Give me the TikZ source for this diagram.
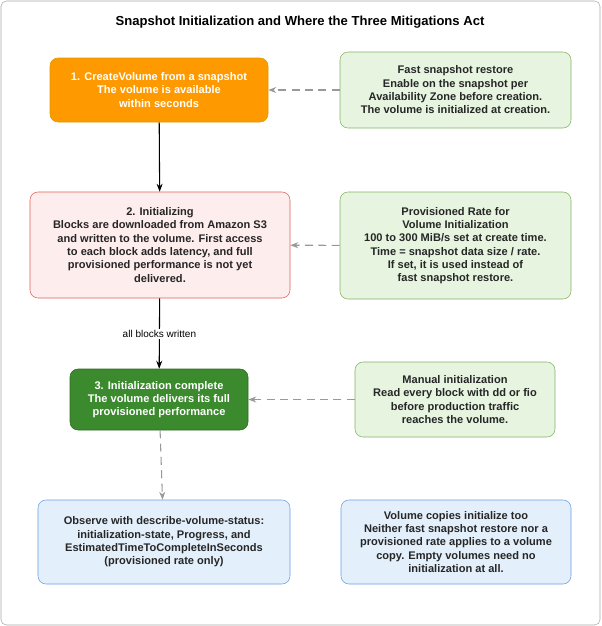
\documentclass[tikz,border=0pt]{standalone}
\usepackage{fontspec}
\setmainfont{Liberation Sans}
\usetikzlibrary{arrows.meta}
\definecolor{orangefill}{HTML}{FF9900}
\definecolor{orangeline}{HTML}{D79B00}
\definecolor{greenfill}{HTML}{E6F4E0}
\definecolor{greenline}{HTML}{82B366}
\definecolor{redfill}{HTML}{FDEDEC}
\definecolor{redline}{HTML}{E0605A}
\definecolor{darkgreen}{HTML}{3C8A2E}
\definecolor{darkgreenline}{HTML}{2D6A22}
\definecolor{bluefill}{HTML}{E3F0FC}
\definecolor{blueline}{HTML}{6C9DE0}
\tikzset{
  box/.style={draw,rounded corners=6pt,align=center,font=\bfseries\fontsize{8.3}{10}\selectfont,inner sep=2pt},
  startbox/.style={box,fill=orangefill,draw=orangeline,text=white},
  note/.style={box,fill=greenfill,draw=greenline,text=black!85},
  flow/.style={-{Stealth[length=6pt]},thick,black},
  hint/.style={-{Stealth[length=6pt]},thick,gray!80,dash pattern=on 6pt off 4pt}
}
\begin{document}
\begin{tikzpicture}[x=0.75pt,y=-0.75pt]
  \useasboundingbox (0,0) rectangle (601,626);
  \draw[gray!70,rounded corners=4pt] (1,1) rectangle (600,625);
  \node[font=\bfseries\fontsize{9.8}{12}\selectfont] (title) at (300,22) {Snapshot Initialization and Where the Three Mitigations Act};
  % left column
  \node[startbox,minimum width=218*0.75pt,minimum height=64*0.75pt] (create) at (159,90)
    {1. CreateVolume from a snapshot\\The volume is available\\within seconds};
  \node[box,fill=redfill,draw=redline,text=black!85,minimum width=260*0.75pt,minimum height=106*0.75pt] (init) at (160,245)
    {2. Initializing\\Blocks are downloaded from Amazon S3\\and written to the volume. First access\\to each block adds latency, and full\\provisioned performance is not yet\\delivered.};
  \node[box,fill=darkgreen,draw=darkgreenline,text=white,minimum width=178*0.75pt,minimum height=61*0.75pt] (done) at (159,399.5)
    {3. Initialization complete\\The volume delivers its full\\provisioned performance};
  \node[box,fill=bluefill,draw=blueline,text=black!85,minimum width=252*0.75pt,minimum height=84*0.75pt] (observe) at (164,542)
    {Observe with describe-volume-status:\\initialization-state, Progress, and\\EstimatedTimeToCompleteInSeconds\\(provisioned rate only)};
  % right column
  \node[note,minimum width=231*0.75pt,minimum height=76*0.75pt] (fsr) at (455.5,90)
    {Fast snapshot restore\\Enable on the snapshot per\\Availability Zone before creation.\\The volume is initialized at creation.};
  \node[note,minimum width=231*0.75pt,minimum height=107*0.75pt] (rate) at (455.5,245.5)
    {Provisioned Rate for\\Volume Initialization\\100 to 300 MiB/s set at create time.\\Time = snapshot data size / rate.\\If set, it is used instead of\\fast snapshot restore.};
  \node[note,minimum width=200*0.75pt,minimum height=75*0.75pt] (manual) at (455,399.5)
    {Manual initialization\\Read every block with dd or fio\\before production traffic\\reaches the volume.};
  \node[box,fill=bluefill,draw=blueline,text=black!85,minimum width=230*0.75pt,minimum height=84*0.75pt] (copies) at (456,542)
    {Volume copies initialize too\\Neither fast snapshot restore nor a\\provisioned rate applies to a volume\\copy. Empty volumes need no\\initialization at all.};
  % connectors
  \draw[flow] (create) -- (init);
  \draw[flow] (init) -- node[fill=white,font=\fontsize{7.5}{9}\selectfont,inner sep=1pt] {all blocks written} (done);
  \draw[hint] (done) -- (observe);
  \draw[hint] (fsr) -- (create);
  \draw[hint] (rate) -- (init);
  \draw[hint] (manual) -- (done);
\end{tikzpicture}
\end{document}
